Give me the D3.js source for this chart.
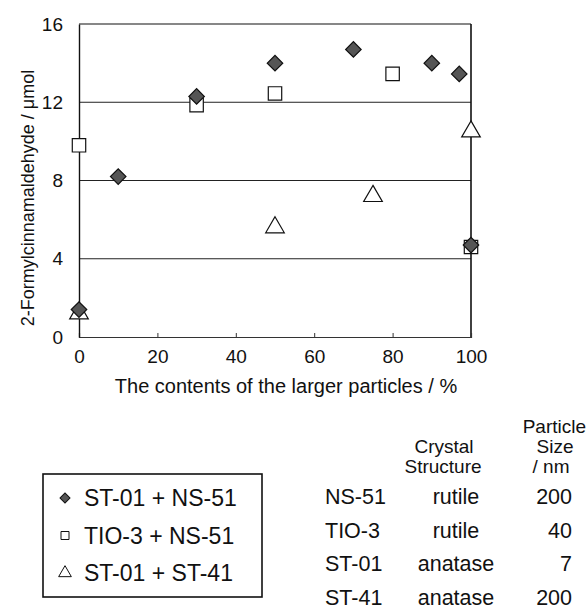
<!DOCTYPE html>
<html>
<head>
<meta charset="utf-8">
<script src="https://cdn.jsdelivr.net/npm/d3@7"></script>
<style>
  body { margin: 0; background: #fff; }
  svg { display: block; font-family: Arial, "Liberation Sans", Helvetica, sans-serif; }
</style>
</head>
<body>
<div id="vis"></div>
<script>
(function () {
  'use strict';

  // data
  var diamondX = [0, 10, 30, 50, 70, 90, 97, 100];
  var diamondY = [1.4, 8.2, 12.3, 14.0, 14.7, 14.0, 13.45, 4.7];
  var squareX = [0, 30, 50, 80, 100];
  var squareY = [9.8, 11.85, 12.45, 13.45, 4.6];
  var triangleX = [0, 50, 75, 100];
  var triangleY = [1.2, 5.6, 7.2, 10.5];

  var xTicks = [0, 20, 40, 60, 80, 100];
  var yTicks = [0, 4, 8, 12, 16];
  var gridLines = [4, 8, 12];

  var legendLabels = ['ST-01 + NS-51', 'TIO-3 + NS-51', 'ST-01 + ST-41'];
  var legendShapes = ['diamond', 'square', 'triangle'];

  var tableNames = ['NS-51', 'TIO-3', 'ST-01', 'ST-41'];
  var tableStructure = ['rutile', 'rutile', 'anatase', 'anatase'];
  var tableSize = ['200', '40', '7', '200'];

  var WIDTH = 587;
  var HEIGHT = 611;
  var LEFT = 79, RIGHT = 471, TOP = 24, BOTTOM = 337;

  var svg = d3.select('#vis').append('svg')
    .attr('width', WIDTH)
    .attr('height', HEIGHT);

  var x = d3.scaleLinear().domain([0, 100]).range([LEFT, RIGHT]);
  var y = d3.scaleLinear().domain([0, 16]).range([BOTTOM, TOP]);

  // grid lines
  svg.append('g').selectAll('line').data(gridLines).enter().append('line')
    .attr('x1', LEFT).attr('x2', RIGHT)
    .attr('y1', function (d) { return y(d); })
    .attr('y2', function (d) { return y(d); })
    .attr('stroke', '#222').attr('stroke-width', 1);

  // frame
  svg.append('line').attr('x1', LEFT).attr('x2', RIGHT).attr('y1', y(16)).attr('y2', y(16))
    .attr('stroke', '#111').attr('stroke-width', 1.2);
  svg.append('line').attr('x1', RIGHT).attr('x2', RIGHT).attr('y1', y(16)).attr('y2', y(0))
    .attr('stroke', '#111').attr('stroke-width', 1.6);

  // axes
  var xAxis = d3.axisBottom(x).tickValues(xTicks).tickSize(-4).tickPadding(13);
  var gx = svg.append('g').attr('transform', 'translate(0,' + BOTTOM + ')').call(xAxis);
  gx.select('.domain').attr('stroke', '#333').attr('stroke-width', 1.2);
  gx.selectAll('.tick line').attr('stroke', '#333')
    .attr('display', function (d) { return (d === 0 || d === 100) ? 'none' : null; });
  gx.selectAll('text').attr('font-size', 19).attr('fill', '#111')
    .attr('font-family', 'Arial, "Liberation Sans", sans-serif');

  var yAxis = d3.axisLeft(y).tickValues(yTicks).tickSize(0).tickPadding(16);
  var gy = svg.append('g').attr('transform', 'translate(' + LEFT + ',0)').call(yAxis);
  gy.select('.domain').attr('stroke', '#111').attr('stroke-width', 1.4);
  gy.selectAll('text').attr('font-size', 19).attr('fill', '#111')
    .attr('font-family', 'Arial, "Liberation Sans", sans-serif');

  // axis titles
  svg.append('text')
    .attr('x', 286).attr('y', 393)
    .attr('text-anchor', 'middle').attr('font-size', 20).attr('fill', '#111')
    .text('The contents of the larger particles / %');
  svg.append('text')
    .attr('transform', 'translate(34,' + 198 + ') rotate(-90)')
    .attr('text-anchor', 'middle').attr('font-size', 18).attr('fill', '#111')
    .text('2-Formylcinnamaldehyde / \u03bcmol');

  // markers
  var symDiamond = d3.symbol().type(d3.symbolSquare).size(120);
  var symSquare = d3.symbol().type(d3.symbolSquare).size(180);
  var symTriangle = d3.symbol().type(d3.symbolTriangle).size(150);

  function drawSeries (xs, ys, sym, fill, rot) {
    svg.append('g').selectAll('path').data(xs).enter().append('path')
      .attr('d', sym)
      .attr('transform', function (d, i) {
        return 'translate(' + x(d) + ',' + y(ys[i]) + ')' + (rot ? ' rotate(45)' : '');
      })
      .attr('fill', fill)
      .attr('stroke', '#111')
      .attr('stroke-width', 1.2);
  }
  drawSeries(triangleX, triangleY, symTriangle, '#fff', false);
  drawSeries(squareX, squareY, symSquare, '#fff', false);
  drawSeries(diamondX, diamondY, symDiamond, '#555', true);

  // legend
  var lg = svg.append('g');
  lg.append('rect')
    .attr('x', 43).attr('y', 474).attr('width', 219).attr('height', 123)
    .attr('fill', 'none').attr('stroke', '#111').attr('stroke-width', 1.6);
  var legendSym = {
    diamond: { sym: d3.symbol().type(d3.symbolSquare).size(50), fill: '#555', rot: true },
    square: { sym: d3.symbol().type(d3.symbolSquare).size(64), fill: '#fff', rot: false },
    triangle: { sym: d3.symbol().type(d3.symbolTriangle).size(70), fill: '#fff', rot: false }
  };
  legendLabels.forEach(function (label, i) {
    var cy = 498 + i * 37.5;
    var s = legendSym[legendShapes[i]];
    lg.append('path')
      .attr('d', s.sym)
      .attr('transform', 'translate(65,' + cy + ')' + (s.rot ? ' rotate(45)' : ''))
      .attr('fill', s.fill).attr('stroke', '#111').attr('stroke-width', 1);
    lg.append('text')
      .attr('x', 84).attr('y', cy + 8)
      .attr('font-size', 23).attr('fill', '#111')
      .text(label);
  });

  // particle table
  var tb = svg.append('g').attr('fill', '#111');
  tb.append('text').attr('x', 586).attr('y', 433).attr('text-anchor', 'end')
    .attr('font-size', 19).text('Particle');
  tb.append('text').attr('x', 555).attr('y', 453).attr('text-anchor', 'middle')
    .attr('font-size', 19).text('Size');
  tb.append('text').attr('x', 551).attr('y', 473).attr('text-anchor', 'middle')
    .attr('font-size', 19).text('/ nm');
  tb.append('text').attr('x', 444).attr('y', 453).attr('text-anchor', 'middle')
    .attr('font-size', 19).text('Crystal');
  tb.append('text').attr('x', 443).attr('y', 473).attr('text-anchor', 'middle')
    .attr('font-size', 19).text('Structure');
  tableNames.forEach(function (name, i) {
    var by = 504 + i * 33.5;
    tb.append('text').attr('x', 325).attr('y', by).attr('font-size', 21.5).text(name);
    tb.append('text').attr('x', 456).attr('y', by).attr('text-anchor', 'middle')
      .attr('font-size', 21.5).text(tableStructure[i]);
    tb.append('text').attr('x', 572).attr('y', by).attr('text-anchor', 'end')
      .attr('font-size', 21.5).text(tableSize[i]);
  });
})();
</script>
</body>
</html>
